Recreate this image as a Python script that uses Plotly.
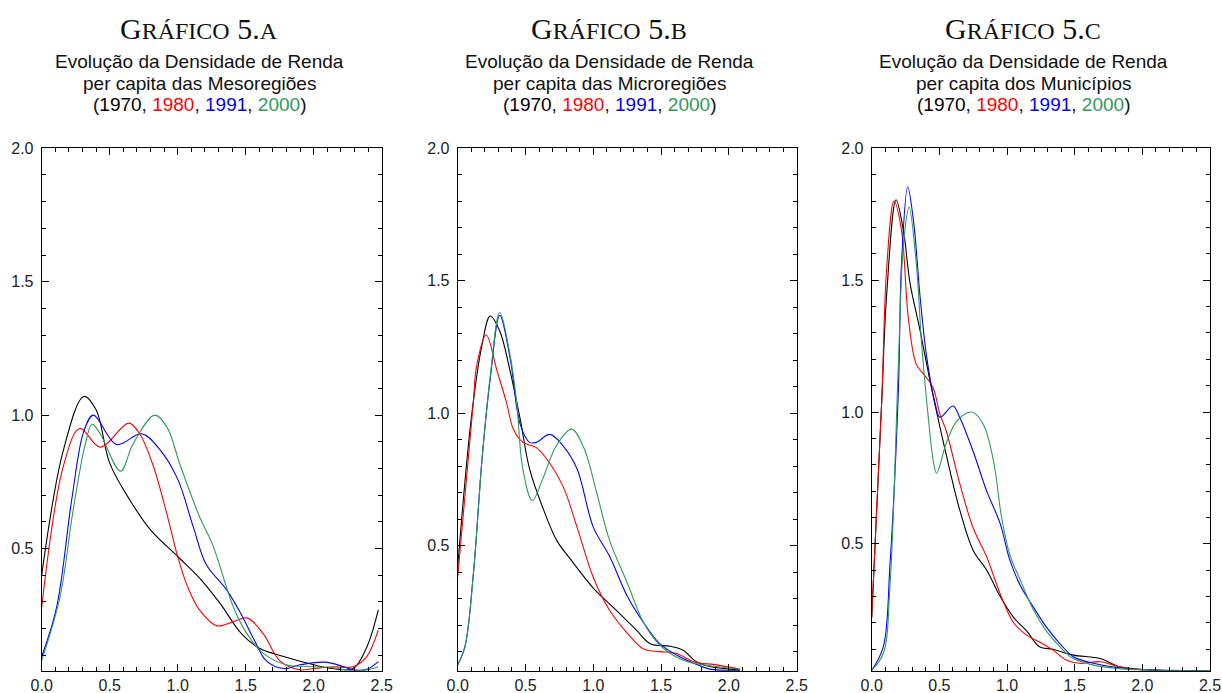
import plotly.graph_objects as go

# ---------------- data ----------------
# Panel A: Mesoregiões
a70_x = [0.0, 0.16, 0.31, 0.40, 0.50, 0.65, 0.80, 1.00, 1.16, 1.31, 1.47, 1.60, 1.78, 2.00, 2.14, 2.29, 2.39, 2.475]
a70_y = [0.40, 0.87, 1.07, 1.02, 0.82, 0.68, 0.57, 0.47, 0.39, 0.295, 0.18, 0.126, 0.095, 0.064, 0.05, 0.05, 0.13, 0.27]
a80_x = [0.0, 0.16, 0.28, 0.43, 0.64, 0.72, 0.82, 0.92, 1.00, 1.07, 1.16, 1.29, 1.41, 1.51, 1.63, 1.75, 1.90, 2.00, 2.14, 2.29, 2.39, 2.475]
a80_y = [0.28, 0.81, 0.95, 0.88, 0.97, 0.93, 0.81, 0.63, 0.47, 0.36, 0.27, 0.21, 0.226, 0.24, 0.18, 0.08, 0.045, 0.05, 0.057, 0.057, 0.095, 0.195]
a91_x = [0.0, 0.11, 0.22, 0.31, 0.38, 0.55, 0.735, 0.87, 1.00, 1.115, 1.21, 1.36, 1.46, 1.56, 1.65, 1.78, 1.90, 2.08, 2.22, 2.29, 2.39, 2.475]
a91_y = [0.095, 0.28, 0.68, 0.94, 1.00, 0.89, 0.93, 0.87, 0.76, 0.58, 0.44, 0.345, 0.26, 0.16, 0.08, 0.05, 0.064, 0.074, 0.057, 0.045, 0.047, 0.076]
a00_x = [0.0, 0.135, 0.23, 0.32, 0.37, 0.43, 0.58, 0.67, 0.83, 0.92, 1.02, 1.16, 1.26, 1.41, 1.51, 1.63, 1.80, 2.00, 2.14, 2.29, 2.39, 2.475]
a00_y = [0.08, 0.32, 0.64, 0.89, 0.966, 0.93, 0.79, 0.89, 1.00, 0.956, 0.81, 0.62, 0.51, 0.28, 0.18, 0.107, 0.064, 0.057, 0.053, 0.042, 0.045, 0.057]

# Panel B: Microregiões
b70_x = [0.0, 0.10, 0.18, 0.24, 0.31, 0.386, 0.46, 0.53, 0.63, 0.73, 0.83, 1.00, 1.17, 1.32, 1.42, 1.57, 1.66, 1.76, 1.86, 2.08]
b70_y = [0.42, 0.98, 1.26, 1.367, 1.31, 1.16, 0.98, 0.79, 0.64, 0.52, 0.45, 0.34, 0.256, 0.18, 0.13, 0.12, 0.106, 0.062, 0.044, 0.031]
b80_x = [0.0, 0.115, 0.14, 0.21, 0.29, 0.36, 0.41, 0.48, 0.58, 0.68, 0.78, 0.88, 1.00, 1.12, 1.25, 1.37, 1.49, 1.61, 1.74, 1.91, 2.08]
b80_y = [0.38, 1.04, 1.18, 1.295, 1.16, 1.04, 0.94, 0.89, 0.87, 0.81, 0.72, 0.57, 0.38, 0.256, 0.17, 0.11, 0.10, 0.094, 0.062, 0.05, 0.034]
b91_x = [0.0, 0.054, 0.115, 0.18, 0.24, 0.31, 0.386, 0.46, 0.53, 0.58, 0.68, 0.78, 0.88, 1.00, 1.12, 1.25, 1.37, 1.49, 1.61, 1.74, 1.86, 2.08]
b91_y = [0.05, 0.12, 0.39, 0.83, 1.13, 1.37, 1.21, 0.96, 0.89, 0.89, 0.92, 0.875, 0.79, 0.57, 0.46, 0.31, 0.21, 0.13, 0.088, 0.056, 0.034, 0.029]
b00_x = [0.0, 0.054, 0.115, 0.18, 0.24, 0.31, 0.386, 0.435, 0.48, 0.55, 0.63, 0.73, 0.84, 0.93, 1.03, 1.12, 1.25, 1.37, 1.49, 1.61, 1.74, 1.91, 2.08]
b00_y = [0.05, 0.12, 0.39, 0.83, 1.14, 1.38, 1.22, 1.04, 0.79, 0.67, 0.756, 0.88, 0.94, 0.87, 0.69, 0.52, 0.36, 0.21, 0.125, 0.08, 0.056, 0.044, 0.034]

# Panel C: Municípios
c70_x = [0.0, 0.074, 0.11, 0.18, 0.234, 0.283, 0.357, 0.43, 0.48, 0.55, 0.65, 0.75, 0.85, 0.95, 1.05, 1.145, 1.24, 1.34, 1.49, 1.69, 1.83, 2.08, 2.5]
c70_y = [0.22, 1.04, 1.44, 1.805, 1.69, 1.49, 1.31, 1.12, 1.00, 0.84, 0.63, 0.475, 0.40, 0.30, 0.22, 0.17, 0.11, 0.10, 0.078, 0.065, 0.034, 0.021, 0.02]
c80_x = [0.0, 0.074, 0.11, 0.165, 0.22, 0.27, 0.33, 0.39, 0.455, 0.505, 0.55, 0.65, 0.75, 0.85, 0.95, 1.05, 1.145, 1.24, 1.34, 1.44, 1.54, 1.69, 1.83, 2.08, 2.5]
c80_y = [0.22, 1.04, 1.54, 1.80, 1.69, 1.36, 1.18, 1.14, 1.09, 0.99, 0.93, 0.73, 0.56, 0.45, 0.31, 0.20, 0.154, 0.128, 0.097, 0.059, 0.047, 0.053, 0.034, 0.021, 0.02]
c91_x = [0.0, 0.086, 0.135, 0.197, 0.22, 0.266, 0.31, 0.357, 0.406, 0.47, 0.505, 0.60, 0.65, 0.75, 0.85, 0.95, 1.02, 1.10, 1.195, 1.29, 1.39, 1.49, 1.64, 1.83, 2.08, 2.5]
c91_y = [0.02, 0.11, 0.42, 1.08, 1.56, 1.853, 1.72, 1.44, 1.21, 1.03, 0.98, 1.023, 0.98, 0.85, 0.70, 0.576, 0.44, 0.34, 0.26, 0.185, 0.122, 0.072, 0.047, 0.03, 0.021, 0.02]
c00_x = [0.0, 0.086, 0.135, 0.197, 0.234, 0.276, 0.33, 0.37, 0.42, 0.455, 0.48, 0.55, 0.63, 0.74, 0.825, 0.90, 0.96, 1.02, 1.10, 1.195, 1.29, 1.39, 1.49, 1.64, 1.83, 2.08, 2.5]
c00_y = [0.02, 0.085, 0.34, 1.18, 1.63, 1.777, 1.56, 1.25, 0.97, 0.815, 0.767, 0.88, 0.966, 1.00, 0.953, 0.815, 0.60, 0.46, 0.36, 0.25, 0.17, 0.11, 0.065, 0.04, 0.027, 0.021, 0.02]

panel_letters = ["A", "B", "C"]
panel_subtitles = ["per capita das Mesoregiões", "per capita das Microregiões", "per capita dos Municípios"]
years = ["1970", "1980", "1991", "2000"]
x_ticks = [0.0, 0.5, 1.0, 1.5, 2.0, 2.5]
y_ticks = [0.5, 1.0, 1.5, 2.0]
y_mins = [0.042, 0.028, 0.019]

# ---------------- styling ----------------
W, H = 1222, 693
colors = ["#000000", "#ff0000", "#0000ff", "#2e9a5a"]
panel_px = [(41.7, 381.7), (457.7, 796.7), (871.7, 1210.0)]
plot_top, plot_bottom = 148.3, 670.7
title_cx = [199, 609, 1023]

series = [
    [(a70_x, a70_y), (a80_x, a80_y), (a91_x, a91_y), (a00_x, a00_y)],
    [(b70_x, b70_y), (b80_x, b80_y), (b91_x, b91_y), (b00_x, b00_y)],
    [(c70_x, c70_y), (c80_x, c80_y), (c91_x, c91_y), (c00_x, c00_y)],
]

fig = go.Figure()
tick_font = dict(family="Liberation Sans", size=16, color="#222222")
axis_common = dict(
    showline=True, linecolor="#000000", linewidth=1, mirror="allticks",
    ticks="inside", ticklen=7, tickcolor="#000000", tickwidth=1,
    showgrid=False, zeroline=False, tickfont=tick_font, automargin=False,
)

for i in range(3):
    xa = "x" if i == 0 else f"x{i+1}"
    ya = "y" if i == 0 else f"y{i+1}"
    for j, (xs, ys) in enumerate(series[i]):
        fig.add_trace(go.Scatter(
            x=xs, y=ys, mode="lines", xaxis=xa, yaxis=ya,
            line=dict(color=colors[j], width=1.1, shape="spline", smoothing=1.0),
            showlegend=False, hoverinfo="skip",
        ))
    l, r = panel_px[i]
    xkey = "xaxis" if i == 0 else f"xaxis{i+1}"
    ykey = "yaxis" if i == 0 else f"yaxis{i+1}"
    fig.layout[xkey] = dict(
        domain=[l / W, r / W], range=[0, 2.5], anchor=ya,
        tickvals=x_ticks, ticktext=[f"{v:.1f}" for v in x_ticks],
        minor=dict(dtick=0.1, tick0=0, ticks="inside", ticklen=4, tickcolor="#000000", tickwidth=1),
        **axis_common,
    )
    fig.layout[ykey] = dict(
        domain=[1 - plot_bottom / H, 1 - plot_top / H], range=[y_mins[i], 2.0], anchor=xa,
        tickvals=y_ticks, ticktext=[f"{v:.1f}" for v in y_ticks],
        minor=dict(dtick=0.1, tick0=0, ticks="inside", ticklen=4, tickcolor="#000000", tickwidth=1),
        ticklabelstandoff=4,
        **axis_common,
    )

    cx = title_cx[i] / W
    big, small = 30, 24
    title_txt = (f"G<span style='font-size:{small}px'>RÁFICO</span> 5."
                 f"<span style='font-size:{small}px'>{panel_letters[i]}</span>")
    fig.add_annotation(x=cx, y=1 - 28 / H, xref="paper", yref="paper", text=title_txt,
                       showarrow=False, xanchor="center", yanchor="middle",
                       font=dict(family="Liberation Serif", size=big, color="#111111"))
    sub_font = dict(family="Liberation Sans", size=19, color="#111111")
    lines = [
        "Evolução da Densidade de Renda",
        panel_subtitles[i],
        "(" + ", ".join(f"<span style='color:{colors[k]}'>{years[k]}</span>" for k in range(4)) + ")",
    ]
    for k, (txt, py) in enumerate(zip(lines, [61.5, 83.5, 104.5])):
        fig.add_annotation(x=cx, y=1 - py / H, xref="paper", yref="paper", text=txt,
                           showarrow=False, xanchor="center", yanchor="middle", font=sub_font)

fig.update_layout(
    template="none",
    width=W, height=H, margin=dict(l=0, r=0, t=0, b=0, pad=0),
    paper_bgcolor="white", plot_bgcolor="white",
)
fig.write_html(
    "out.html",
    config={"displayModeBar": False},
    post_script="document.documentElement.style.margin='0';document.body.style.margin='0';"
                "document.body.style.overflow='hidden';",
)
